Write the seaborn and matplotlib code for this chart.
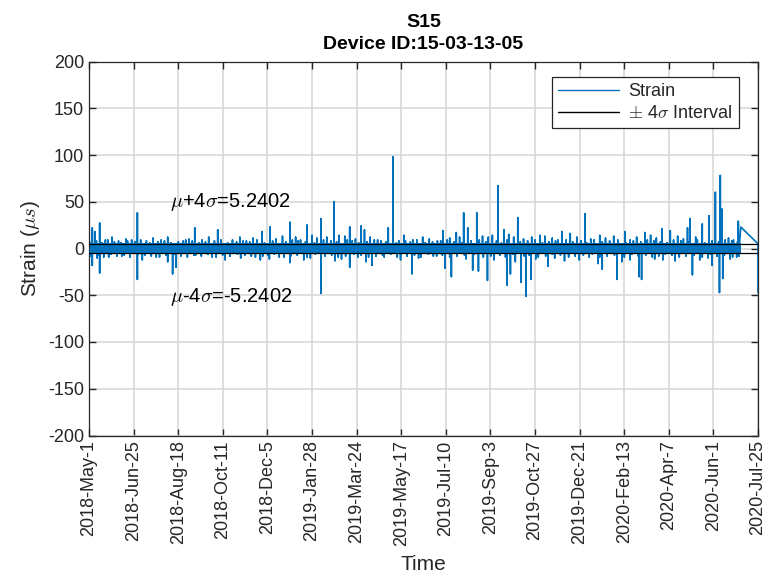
import numpy as np
import pandas as pd
import matplotlib
matplotlib.use("Agg")
import matplotlib.pyplot as plt
from matplotlib.lines import Line2D
import seaborn as sns

# ---- record span -------------------------------------------------------
record_start = "2018-05-01"
record_end = "2020-07-25"

# large excursions: day of record and strain value (micro-strain)
peak_day = [4, 7, 13, 59, 96, 129, 157, 184, 211, 221, 245, 266, 283, 299,
            318, 332, 336, 365, 371, 384, 407, 432, 448, 457, 462, 473, 487,
            499, 506, 512, 523, 550, 577, 587, 605, 623, 654, 678, 699, 709,
            730, 733, 748, 756, 764, 770, 772, 792,
            4, 13, 59, 96, 102, 106, 166, 209, 245, 283, 318, 345, 394, 434,
            442, 468, 475, 486, 510, 514, 527, 533, 539, 560, 621, 626, 644,
            671, 674, 736, 760, 769, 773]
peak_strain = [22, 18, 27, 38, 12, 22, 20, 12, 18, 23, 28, 25, 32, 50,
               23, 24, 20, 22, 98, 14, 12, 19, 17, 38, 22, 38, 12,
               67, 20, 15, 33, 14, 18, 16, 37, 14, 18, 17, 21, 19,
               22, 32, 26, 35, 60, 78, 42, 29,
               -18, -26, -33, -14, -27, -20, -12, -12, -15, -48, -20, -18, -27, -21,
               -30, -23, -24, -34, -39, -27, -36, -51, -33, -19, -16, -22, -33,
               -30, -33, -28, -18, -47, -32]

# smaller excursions poking out of the noise band
minor_day = [20, 28, 36, 45, 52, 70, 78, 88, 115, 122, 138, 146, 175, 192,
             200, 228, 236, 252, 258, 272, 278, 290, 305, 312, 325, 343, 352,
             378, 395, 415, 425, 440, 452, 480, 492, 518, 530, 540, 556, 565,
             572, 595, 612, 630, 640, 660, 668, 685, 692, 718, 725, 740, 780, 786,
             10, 24, 40, 65, 82, 112, 130, 150, 185, 198, 220, 232, 262, 270,
             300, 308, 328, 338, 360, 380, 402, 420, 460, 494, 520, 545, 568,
             580, 598, 610, 650, 660, 690, 700, 715, 745, 755, 782, 790]
minor_strain = [9, 12, 8, 10, 9, 8, 11, 9, 8, 10, 9, 12, 9, 8,
                11, 10, 13, 12, 9, 14, 11, 12, 14, 13, 10, 12, 9,
                8, 9, 10, 8, 11, 12, 13, 14, 12, 10, 12, 13, 11,
                9, 12, 10, 11, 13, 9, 12, 14, 11, 13, 10, 12, 11, 9,
                -10, -9, -8, -12, -9, -8, -7, -9, -10, -8, -11, -9, -12, -10,
                -13, -11, -9, -14, -9, -12, -10, -8, -11, -12, -14, -11, -10,
                -13, -12, -9, -14, -12, -11, -12, -13, -12, -10, -11, -9]

# fringe of the noise band: readings just beyond its edges
fringe_up_day = [3, 9, 16, 23, 31, 39, 47, 56, 63, 74, 84, 92, 100, 109, 118,
                 126, 134, 142, 153, 161, 169, 180, 188, 196, 205, 214, 224,
                 240, 248, 255, 264, 275, 286, 295, 302, 315, 321, 329, 339,
                 348, 356, 362, 375, 386, 392, 400, 410, 419, 429, 437, 445,
                 455, 466, 476, 484, 497, 503, 510, 526, 535, 544, 553, 561,
                 569, 582, 590, 600, 607, 616, 626, 635, 645, 655, 664, 673,
                 681, 689, 697, 705, 713, 722, 732, 742, 751, 760, 768, 776,
                 784, 791]
fringe_up = [7, 8, 6, 9, 7, 6, 8, 7, 9, 6, 7, 8, 6, 7, 9,
             8, 6, 7, 8, 9, 6, 7, 8, 7, 9, 6, 8,
             7, 9, 8, 7, 6, 9, 8, 7, 9, 8, 6, 7,
             9, 8, 7, 6, 8, 7, 9, 6, 7, 8, 9, 7,
             6, 8, 9, 7, 8, 6, 9, 7, 8, 9, 6, 7,
             8, 9, 7, 8, 6, 9, 7, 8, 9, 6, 8, 7,
             9, 8, 7, 6, 9, 8, 7, 9, 6, 8, 7, 9,
             8, 7]
fringe_dn_day = [2, 11, 18, 27, 34, 43, 50, 60, 68, 76, 86, 94, 104, 112, 120,
                 128, 137, 145, 155, 163, 172, 181, 190, 203, 212, 218, 226,
                 238, 246, 254, 266, 276, 288, 296, 304, 313, 323, 332, 341,
                 350, 358, 368, 376, 388, 397, 405, 414, 424, 431, 440, 449,
                 458, 470, 481, 490, 501, 508, 517, 531, 537, 548, 557, 565,
                 575, 585, 593, 603, 614, 623, 632, 641, 653, 662, 670, 679,
                 687, 695, 703, 711, 720, 728, 738, 748, 758, 766, 775, 785,
                 793]
fringe_dn = [-8, -7, -9, -6, -8, -7, -9, -6, -7, -8, -9, -7, -6, -8, -9,
             -7, -8, -6, -9, -7, -8, -6, -7, -9, -8, -7, -6,
             -9, -8, -7, -9, -6, -8, -7, -9, -8, -6, -7, -9,
             -8, -7, -6, -9, -8, -7, -9, -6, -8, -7, -9, -8,
             -7, -6, -9, -8, -7, -9, -6, -8, -7, -9, -8, -6,
             -7, -9, -8, -7, -6, -9, -8, -7, -9, -6, -8, -7,
             -9, -8, -6, -7, -9, -8, -7, -9, -6, -8, -7, -9,
             -8]

# last readings after the continuous record stops
tail_day = [795, 816, 816]
tail_strain = [23, 5, -47]

# dense day-to-day scatter of the record
band_day = [0, 795]
band_upper = [6.3, 6.3]
band_lower = [-5.8, -5.8]

# +/- 4 sigma bounds
mu_plus_4sigma = 5.2402
mu_minus_4sigma = -5.2402

tick_labels = ["2018-May-1", "2018-Jun-25", "2018-Aug-18", "2018-Oct-11",
               "2018-Dec-5", "2019-Jan-28", "2019-Mar-24", "2019-May-17",
               "2019-Jul-10", "2019-Sep-3", "2019-Oct-27", "2019-Dec-21",
               "2020-Feb-13", "2020-Apr-7", "2020-Jun-1", "2020-Jul-25"]
y_ticks = [-200, -150, -100, -50, 0, 50, 100, 150, 200]

# ---- style -------------------------------------------------------------
sns.set_style("ticks")
plt.rcParams["font.family"] = ["Liberation Sans", "DejaVu Sans"]
plt.rcParams["mathtext.fontset"] = "cm"
plt.rcParams["axes.unicode_minus"] = False

blue = "#0072BD"
ink = "#262626"

start = pd.Timestamp(record_start)
end = pd.Timestamp(record_end)


def to_time(days):
    return start + pd.to_timedelta(np.asarray(days, dtype=float), unit="D")


# build the trace: each excursion rises from the baseline and returns
events = sorted(list(zip(peak_day, peak_strain))
                + list(zip(minor_day, minor_strain))
                + list(zip(fringe_up_day, fringe_up))
                + list(zip(fringe_dn_day, fringe_dn)))
trace_day, trace_val = [], []
for d, v in events:
    trace_day += [d, d, d]
    trace_val += [0, v, 0]
trace_day += tail_day
trace_val += tail_strain
trace = pd.DataFrame({"Time": to_time(trace_day), "Strain": trace_val})

fig = plt.figure(figsize=(7.7, 5.77), dpi=100)
ax = fig.add_axes([89 / 770, 1 - 435.5 / 577, 669 / 770, 374 / 577])

ax.fill_between(to_time(band_day), band_lower, band_upper,
                color=blue, lw=0, zorder=2)
sns.lineplot(data=trace, x="Time", y="Strain", sort=False, estimator=None,
             color=blue, lw=1.2, ax=ax, zorder=3, legend=False)
ax.axhline(mu_plus_4sigma, color="black", lw=0.9, zorder=4)
ax.axhline(mu_minus_4sigma, color="black", lw=0.9, zorder=4)

ax.text(to_time([99])[0], 50, r"$\mu$+4$\sigma$=5.2402",
        fontsize=14.5, color="black", ha="left", va="center")
ax.text(to_time([99])[0], -52, r"$\mu$-4$\sigma$=-5.2402",
        fontsize=14.5, color="black", ha="left", va="center")

# axes, ticks, grid
tick_pos = pd.to_datetime(np.linspace(start.value, end.value, len(tick_labels)))
ax.set_xlim(start, end)
ax.set_ylim(-200, 200)
ax.set_xticks(tick_pos)
ax.set_xticklabels(tick_labels, rotation=90)
ax.set_yticks(y_ticks)
ax.grid(True, color="#d6d6d6", lw=1.1)
ax.set_axisbelow(True)
ax.tick_params(direction="in", length=5, width=1, top=True, right=True,
               labelsize=13, colors=ink, labelcolor=ink)
for s in ax.spines.values():
    s.set_color(ink)
    s.set_linewidth(0.9)
    s.set_visible(True)

ax.set_xlabel("Time", fontsize=15, color=ink, labelpad=6)
ax.set_ylabel(r"Strain ($\mu s$)", fontsize=15, color=ink, labelpad=4)
ax.set_title("S15\nDevice ID:15-03-13-05", fontsize=14, fontweight="bold",
             color="black", pad=9, linespacing=1.4)

handles = [Line2D([], [], color=blue, lw=1.0),
           Line2D([], [], color="black", lw=1.0)]
leg = ax.legend(handles, ["Strain", r"$\pm$ 4$\sigma$ Interval"],
                loc="upper right", bbox_to_anchor=(1 - 19 / 669, 1 - 15.5 / 374),
                borderaxespad=0, fancybox=False, framealpha=1, fontsize=13,
                handlelength=3.4, handletextpad=0.5, borderpad=0.35,
                labelspacing=0.25)
leg.get_frame().set_edgecolor(ink)
leg.get_frame().set_linewidth(0.9)

fig.savefig("out.png", dpi=100)
